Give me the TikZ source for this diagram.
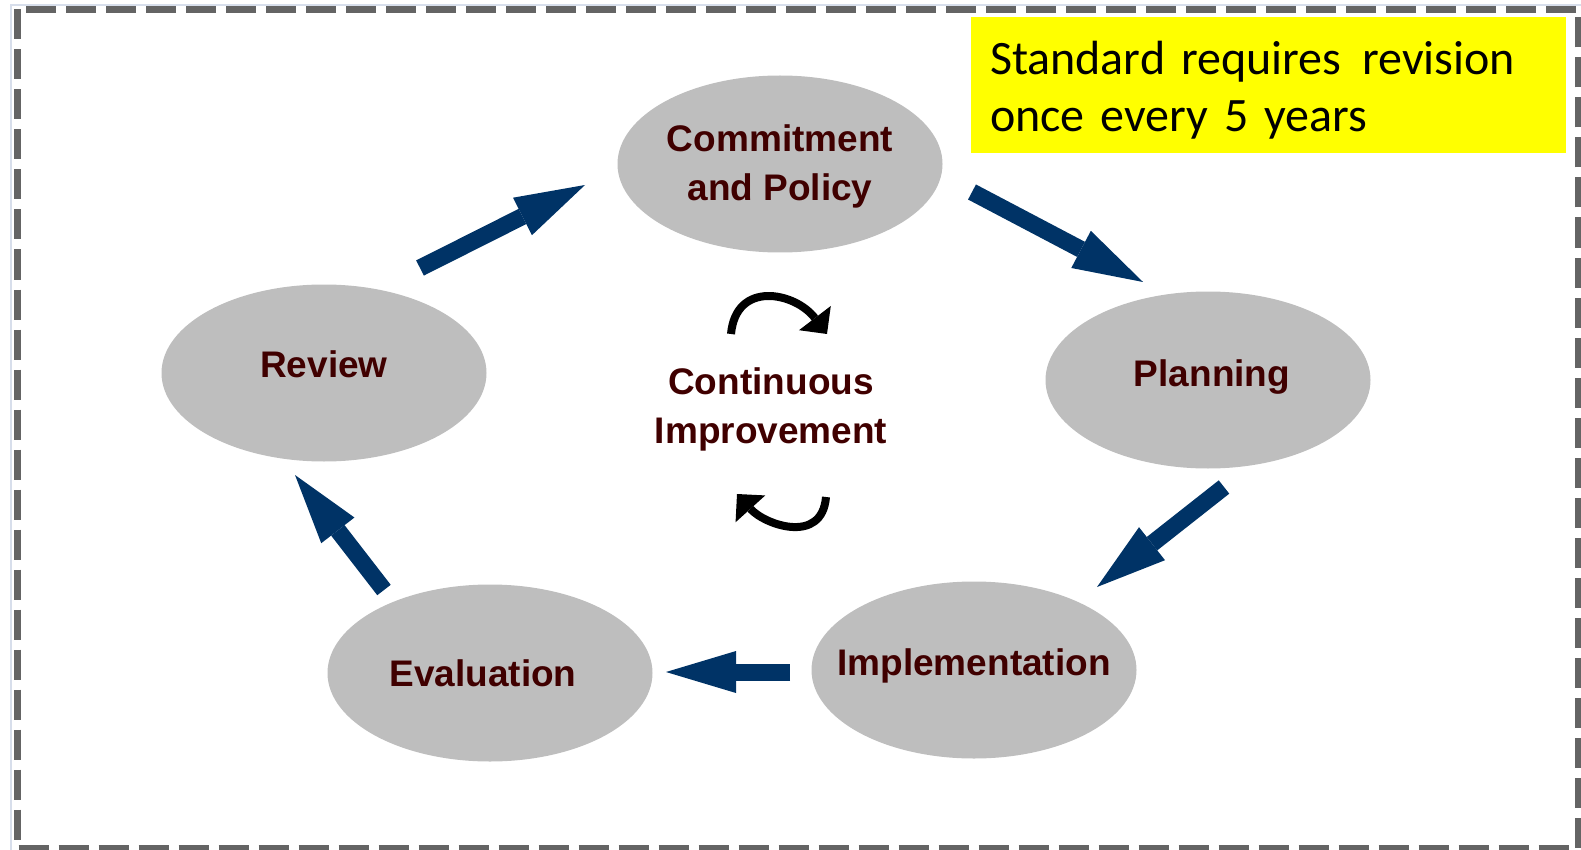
\documentclass[tikz,border=0pt]{standalone}
\usepackage{fontspec}
\setsansfont{Liberation Sans}
\newfontfamily\notefont{Carlito}[WordSpace=0.9]
\usetikzlibrary{shapes.geometric,arrows.meta}

\definecolor{arrowblue}{RGB}{0,51,102}
\definecolor{stagegray}{RGB}{190,190,190}
\definecolor{stagebrown}{RGB}{64,0,0}
\definecolor{bordergray}{RGB}{100,100,100}
\definecolor{framegray}{RGB}{215,222,235}
\definecolor{noteyellow}{RGB}{255,255,0}

\newcommand{\stagefont}{\fontsize{37}{49}\selectfont\sffamily\bfseries}

\tikzset{
  stage/.style={ellipse, fill=stagegray, minimum width=325pt, minimum height=177pt, inner sep=0pt},
  stagelabel/.style={font=\stagefont, text=stagebrown, align=center, inner sep=0pt},
  cyclearrow/.style={draw=arrowblue, line width=17pt, -{Triangle[length=70pt,width=42pt,line width=0pt]}},
  turnarrow/.style={draw=black, line width=8pt, -{Triangle[length=20pt,width=40pt,line width=0pt]}},
  notebox/.style={fill=noteyellow, minimum width=595pt, minimum height=136pt, inner sep=0pt},
  notelabel/.style={text width=557pt, align=left, inner sep=0pt, font=\notefont\fontsize{48}{57}\selectfont},
}

\begin{document}
\begin{tikzpicture}[x=1pt,y=1pt,yscale=-1,xscale=1]
\useasboundingbox (0,0) rectangle (1581,850);

%Frame lines
\draw [color=framegray, line width=2pt] (11,850) -- (11,5) -- (1581,5);
\draw [color=bordergray, line width=7pt, dash pattern=on 30pt off 10pt] (17,9.5) rectangle (1578,848);

%Shape: Ellipses
\node [stage, label={[stagelabel, yshift=-2pt]center:Commitment\\and Policy}] (commit) at (780,164) {};
\node [stage, label={[stagelabel, yshift=3pt, xshift=4pt]center:Planning}] (plan) at (1208,380) {};
\node [stage, label={[stagelabel, yshift=4pt]center:Implementation}] (impl) at (974,670) {};
\node [stage, label={[stagelabel, xshift=-7pt]center:Evaluation}] (eval) at (490,673) {};
\node [stage, label={[stagelabel, yshift=9pt]center:Review}] (review) at (324,373) {};

% Text Node
\node [stagelabel] (improve) at (771,409) {Continuous\\Improvement};
% Text Node
\node [notebox, label={[notelabel, yshift=-5pt]center:Standard requires\hspace{21pt}revision\\once every 5 years}] (note) at (1268.5,85) {};

%Arrow ends
\coordinate (rc-s) at (420,268);
\coordinate (rc-e) at (585,185);
\coordinate (cp-s) at (972,192);
\coordinate (cp-e) at (1143,282);
\coordinate (pi-s) at (1224,487);
\coordinate (pi-e) at (1097,587);
\coordinate (ie-s) at (790,672);
\coordinate (ie-e) at (666,672);
\coordinate (er-s) at (384,590);
\coordinate (er-e) at (295,475);

%Straight Lines
\draw [cyclearrow] (rc-s) -- (rc-e);
\draw [cyclearrow] (cp-s) -- (cp-e);
\draw [cyclearrow] (pi-s) -- (pi-e);
\draw [cyclearrow] (ie-s) -- (ie-e);
\draw [cyclearrow] (er-s) -- (er-e);

%Curve Lines
\coordinate (top-s) at (731,334);
\coordinate (top-e) at (827,334);
\coordinate (bot-s) at (826,497);
\coordinate (bot-e) at (737,494);
\draw [turnarrow] (top-s) .. controls (736,280) and (795,292) .. (top-e);
\draw [turnarrow] (bot-s) .. controls (822,545) and (765,525) .. (bot-e);

\end{tikzpicture}
\end{document}
